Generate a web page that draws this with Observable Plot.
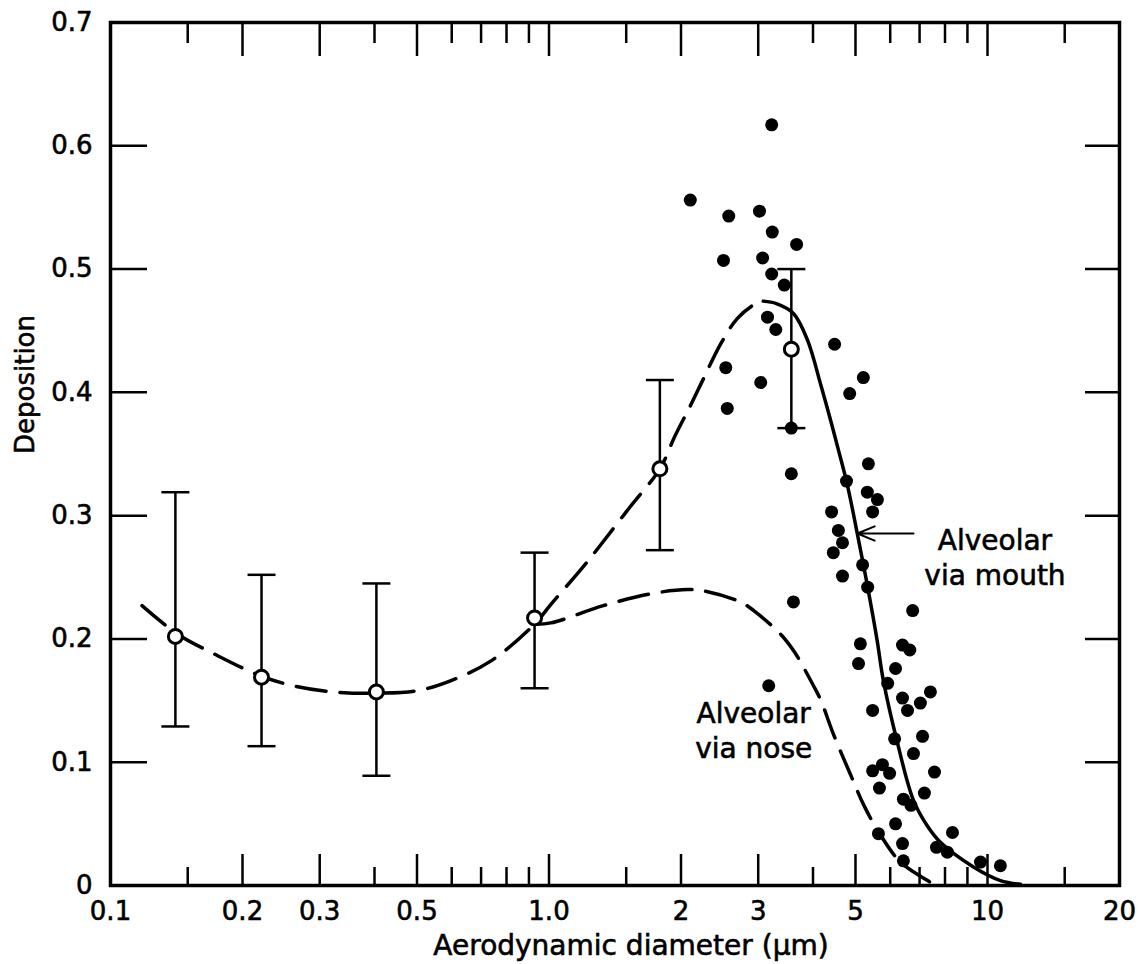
<!DOCTYPE html>
<html>
<head>
<meta charset="utf-8">
<script src="https://cdn.jsdelivr.net/npm/d3@7"></script>
<script src="https://cdn.jsdelivr.net/npm/@observablehq/plot@0.6"></script>
<style>
  html, body { margin: 0; padding: 0; background: #ffffff; }
  #chart { width: 1140px; height: 964px; }
  #chart svg text { stroke: #000000; stroke-width: 0.6px; }
</style>
</head>
<body>
<div id="chart"></div>
<script>
// ---- axis ticks & labels ----
const xLabelTicks = [0.1, 0.2, 0.3, 0.5, 0.7, 1.0, 2, 3, 5, 7, 10, 20];
const xLabelText  = ["0.1", "0.2", "0.3", "0.5", "0.7", "1.0", "2", "3", "5", "7", "10", "20"];
const xMajorTicks = [0.2, 0.3, 0.5, 1, 2, 3, 5, 10];
const xMinorTicks = [0.15, 0.4, 0.6, 0.7, 0.8, 0.9, 1.5, 4, 6, 7, 8, 9, 15];
const yLabelTicks = [0, 0.1, 0.2, 0.3, 0.4, 0.5, 0.6, 0.7];
const yLabelText  = ["0", "0.1", "0.2", "0.3", "0.4", "0.5", "0.6", "0.7"];
const yInnerTicks = [0.1, 0.2, 0.3, 0.4, 0.5, 0.6];
const xTitle = "Aerodynamic diameter (\u03bcm)";
const yTitle = "Deposition";

// ---- error bars with open circles ----
const errX   = [0.1406, 0.221, 0.404, 0.927, 1.79, 3.57];
const errMid = [0.202, 0.169, 0.157, 0.217, 0.338, 0.435];
const errLo  = [0.129, 0.113, 0.089, 0.160, 0.272, 0.371];
const errHi  = [0.319, 0.252, 0.245, 0.270, 0.410, 0.500];

// ---- "Alveolar via mouth" curve: dashed part then solid part ----
const mouthDashX = [0.118, 0.142, 0.172, 0.220, 0.261, 0.323, 0.406, 0.50, 0.596, 0.736, 0.927, 1.01, 1.20, 1.33, 1.53, 1.79, 1.94, 2.10, 2.25, 2.46, 2.69, 2.93, 3.08];
const mouthDashY = [0.227, 0.204, 0.188, 0.170, 0.162, 0.157, 0.156, 0.158, 0.166, 0.182, 0.212, 0.228, 0.259, 0.279, 0.307, 0.338, 0.365, 0.389, 0.411, 0.439, 0.460, 0.471, 0.474];
const mouthSolidX = [3.08, 3.30, 3.61, 3.89, 4.16, 4.39, 4.55, 4.79, 5.05, 5.33, 5.60, 5.79, 6.23, 6.78, 7.30, 7.81, 9.29, 10.7, 11.9];
const mouthSolidY = [0.474, 0.472, 0.464, 0.442, 0.407, 0.377, 0.356, 0.325, 0.285, 0.242, 0.199, 0.166, 0.116, 0.069, 0.048, 0.035, 0.015, 0.004, 0.001];

// ---- "Alveolar via nose" curve (dashed) ----
const noseX = [0.927, 1.01, 1.33, 1.73, 2.07, 2.25, 2.73, 2.93, 3.37, 3.62, 3.75, 4.01, 4.17, 4.45, 4.87, 5.21, 5.61, 6.33, 7.30, 7.60];
const noseY = [0.212, 0.213, 0.227, 0.237, 0.240, 0.239, 0.230, 0.223, 0.204, 0.190, 0.181, 0.162, 0.150, 0.123, 0.090, 0.066, 0.045, 0.019, 0.004, 0.000];

// ---- individual measurements (filled dots) ----
const dotX = [2.10, 2.57, 3.02, 3.23, 3.67, 2.50, 3.07, 3.22, 3.44, 3.15, 3.29, 4.48, 5.21, 4.85, 2.53, 3.04, 2.55, 3.57, 3.22,
              5.35, 3.57, 4.77, 5.32, 5.61, 5.47, 4.41, 4.57, 4.67, 4.45, 5.19, 4.67, 5.33, 3.61, 6.75, 5.13, 6.40, 6.65, 5.08,
              6.17, 5.92, 7.41, 6.40, 7.03, 6.57, 5.47, 3.17, 7.11, 6.14, 6.78, 7.57, 5.47, 5.76, 5.98, 5.67, 7.18, 6.43, 6.69,
              6.17, 8.32, 5.64, 7.65, 8.10, 6.40, 6.43, 9.64, 10.7];
const dotY = [0.556, 0.543, 0.547, 0.530, 0.520, 0.507, 0.509, 0.496, 0.487, 0.461, 0.451, 0.439, 0.412, 0.399, 0.420, 0.408, 0.387, 0.371, 0.617,
              0.342, 0.334, 0.328, 0.319, 0.313, 0.303, 0.303, 0.288, 0.278, 0.270, 0.260, 0.251, 0.242, 0.230, 0.223, 0.196, 0.195, 0.191, 0.180,
              0.176, 0.164, 0.157, 0.152, 0.148, 0.142, 0.142, 0.162, 0.121, 0.119, 0.107, 0.092, 0.093, 0.098, 0.091, 0.079, 0.075, 0.070, 0.065,
              0.050, 0.043, 0.042, 0.031, 0.027, 0.034, 0.020, 0.019, 0.016];

// ---- annotations ----
const annoText = ["Alveolar\nvia mouth", "Alveolar\nvia nose"];
const annoX = [10.4, 2.93];
const annoY = [0.292, 0.152];
const arrowFromX = [6.78];
const arrowToX = [5.05];
const arrowY = [0.2855];

// ---- build tables ----
const errData = errX.map((x, i) => ({x, mid: errMid[i], lo: errLo[i], hi: errHi[i]}));
const capData = errData.flatMap(d => [{x: d.x, y: d.lo}, {x: d.x, y: d.hi}]);
const mouthDash = mouthDashX.map((x, i) => ({x, y: mouthDashY[i]}));
const mouthSolid = mouthSolidX.map((x, i) => ({x, y: mouthSolidY[i]}));
const nose = noseX.map((x, i) => ({x, y: noseY[i]}));
const dots = dotX.map((x, i) => ({x, y: dotY[i]}));
const annos = annoText.map((t, i) => ({t, x: annoX[i], y: annoY[i]}));
const arrows = arrowFromX.map((x1, i) => ({x1, x2: arrowToX[i], y: arrowY[i]}));
const xFmt = new Map(xLabelTicks.map((v, i) => [v, xLabelText[i]]));
const yFmt = new Map(yLabelTicks.map((v, i) => [v, yLabelText[i]]));

const capSymbol = {
  draw(context, size) {
    const w = Math.sqrt(size / Math.PI);
    context.moveTo(-w, 0);
    context.lineTo(w, 0);
  }
};

const dash = "30,14";

const chart = Plot.plot({
  width: 1140,
  height: 964,
  marginLeft: 110,
  marginRight: 21,
  marginTop: 22,
  marginBottom: 79,
  x: {type: "log", domain: [0.1, 20]},
  y: {domain: [0, 0.7]},
  style: {fontFamily: "DejaVu Sans", fontSize: "26px", background: "#ffffff", color: "#000000"},
  marks: [
    // tick labels
    Plot.axisX(xLabelTicks, {anchor: "bottom", tickSize: 0, tickPadding: 16, tickFormat: d => xFmt.get(d), label: null, fontSize: 26}),
    Plot.axisY(yLabelTicks, {anchor: "left", tickSize: 0, tickPadding: 18, tickFormat: d => yFmt.get(d), label: null, fontSize: 26}),
    // inward ticks
    Plot.axisX(xMajorTicks, {anchor: "bottom", tickSize: -31, fill: "none", tickFormat: () => "", label: null, strokeWidth: 2.5}),
    Plot.axisX(xMinorTicks, {anchor: "bottom", tickSize: -18, fill: "none", tickFormat: () => "", label: null, strokeWidth: 2.5}),
    Plot.axisX(xMajorTicks, {anchor: "top", tickSize: -33, fill: "none", tickFormat: () => "", label: null, strokeWidth: 2.5}),
    Plot.axisX(xMinorTicks, {anchor: "top", tickSize: -20, fill: "none", tickFormat: () => "", label: null, strokeWidth: 2.5}),
    Plot.axisY(yInnerTicks, {anchor: "left", tickSize: -37, fill: "none", tickFormat: () => "", label: null, strokeWidth: 2.5}),
    Plot.axisY(yInnerTicks, {anchor: "right", tickSize: -35, fill: "none", tickFormat: () => "", label: null, strokeWidth: 2.5}),
    Plot.frame({stroke: "#000000", strokeWidth: 3.5}),
    // axis titles
    Plot.text([xTitle], {frameAnchor: "bottom", dx: 16, dy: 61, fontSize: 28, fill: "#000000", lineAnchor: "middle"}),
    Plot.text([yTitle], {frameAnchor: "left", dx: -85, rotate: -90, fontSize: 26, fill: "#000000"}),
    // curves
    Plot.line(mouthDash, {x: "x", y: "y", stroke: "#000000", strokeWidth: 3.5, strokeDasharray: dash, curve: "catmull-rom"}),
    Plot.line(mouthSolid, {x: "x", y: "y", stroke: "#000000", strokeWidth: 3.5, curve: "catmull-rom"}),
    Plot.line(nose, {x: "x", y: "y", stroke: "#000000", strokeWidth: 3.5, strokeDasharray: dash, curve: "catmull-rom"}),
    // scatter
    Plot.dot(dots, {x: "x", y: "y", r: 6.5, fill: "#000000", stroke: "none"}),
    // error bars
    Plot.ruleX(errData, {x: "x", y1: "lo", y2: "hi", stroke: "#000000", strokeWidth: 2.5}),
    Plot.dot(capData, {x: "x", y: "y", symbol: capSymbol, r: 14, stroke: "#000000", strokeWidth: 2.5, fill: "none"}),
    Plot.dot(errData, {x: "x", y: "mid", r: 7, fill: "#ffffff", stroke: "#000000", strokeWidth: 3}),
    // annotations
    Plot.text(annos, {x: "x", y: "y", text: "t", fontSize: 28, lineHeight: 1.25, lineAnchor: "top", textAnchor: "middle", fill: "#000000"}),
    Plot.arrow(arrows, {x1: "x1", x2: "x2", y1: "y", y2: "y", stroke: "#000000", strokeWidth: 2, headLength: 14, headAngle: 45})
  ]
});

document.getElementById("chart").appendChild(chart);
</script>
</body>
</html>
